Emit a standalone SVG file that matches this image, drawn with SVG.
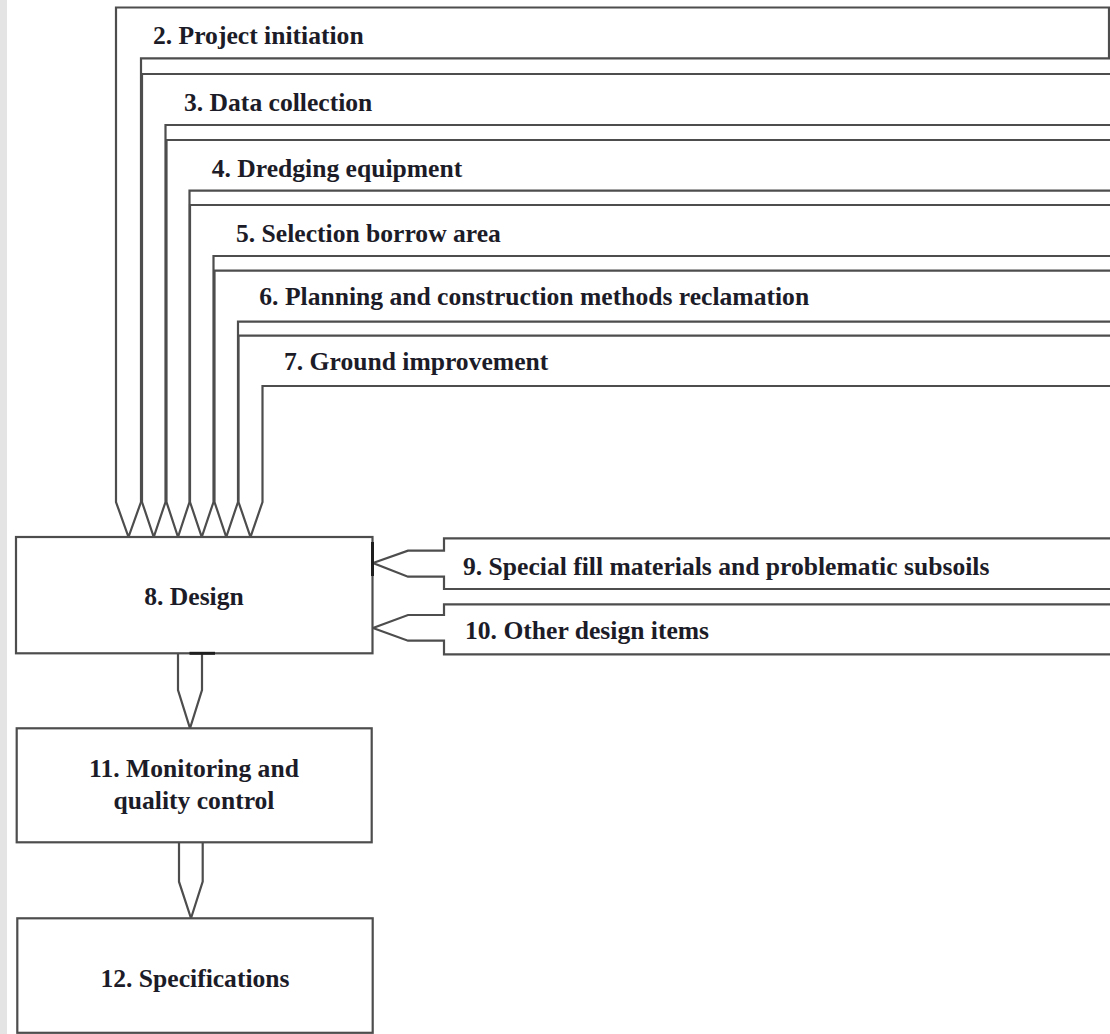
<svg xmlns="http://www.w3.org/2000/svg" width="1110" height="1034" viewBox="0 0 1110 1034">
<style>
.ln{fill:none;stroke:#4d4d4d;stroke-width:2.2;stroke-linejoin:miter}
.bx{fill:#fff;stroke:#4d4d4d;stroke-width:2.2}
.dk{stroke:#1e1e1e;stroke-width:3}
.t{font-family:"Liberation Serif","Times New Roman",serif;font-weight:bold;font-size:25.6px;fill:#1c1c28}
.c{text-anchor:middle}
</style>
<rect x="0" y="0" width="1110" height="1034" fill="#fff"/>
<rect x="0" y="0" width="7" height="1034" fill="#e4e4e4"/>
<g id="connectors">
<path id="band2" class="ln" d="M1109,7.5 L116,7.5 L116,502 L128.5,537 L141,502 L141,58.3 L1109,58.3 Z"/>
<path id="band3" class="ln" d="M1112,74 L142,74 L142,502 L153.75,537 L165.5,502 L165.5,125 L1112,125"/>
<path id="band4" class="ln" d="M1112,140 L166.5,140 L166.5,502 L178,537 L189.5,502 L189.5,190.7 L1112,190.7"/>
<path id="band5" class="ln" d="M1112,205 L190,205 L190,502 L201.75,537 L213.5,502 L213.5,256 L1112,256"/>
<path id="band6" class="ln" d="M1112,270.7 L214.5,270.7 L214.5,502 L226.25,537 L238,502 L238,321.7 L1112,321.7"/>
<path id="band7" class="ln" d="M1112,335.7 L238.5,335.7 L238.5,502 L250.5,537 L262.5,502 L262.5,386 L1112,386"/>
<path id="band9" class="ln" d="M1112,538.3 L444,538.3 L444,550.7 L408,550.7 L373,563 L408,576.7 L444,576.7 L444,589 L1112,589"/>
<path id="band10" class="ln" d="M1112,604.3 L444,604.3 L444,615 L408,615 L373,628 L408,640.7 L444,640.7 L444,654.3 L1112,654.3"/>
<path id="a8to11" class="ln" d="M178,653 L178,690 L190,728.3 L202,690 L202,653"/>
<path id="a11to12" class="ln" d="M179,842 L179,881.7 L191,918.3 L202.7,881.7 L202.7,842"/>
</g>
<g id="labels">
<text class="t" x="153" y="44">2. Project initiation</text>
<text class="t" x="184" y="111">3. Data collection</text>
<text class="t" x="211.7" y="176.5">4. Dredging equipment</text>
<text class="t" x="236" y="241.7">5. Selection borrow area</text>
<text class="t" x="259.3" y="305">6. Planning and construction methods reclamation</text>
<text class="t" x="284" y="370">7. Ground improvement</text>
<text class="t" x="463" y="575">9. Special fill materials and problematic subsoils</text>
<text class="t" x="465" y="639.3">10. Other design items</text>
</g>
<g id="node8">
<rect class="bx" x="16" y="537" width="356.5" height="116.3"/>
<line class="dk" x1="189.5" y1="653.3" x2="215" y2="653.3"/>
<line class="dk" x1="372.5" y1="542" x2="372.5" y2="576"/>
<text class="t c" x="194" y="605">8. Design</text>
</g>
<g id="node11">
<rect class="bx" x="16.7" y="728.3" width="355" height="114"/>
<text class="t c" x="194" y="777">11. Monitoring and</text>
<text class="t c" x="194" y="808.5">quality control</text>
</g>
<g id="node12">
<rect class="bx" x="17.3" y="918.3" width="355.4" height="114.5"/>
<text class="t c" x="195" y="987">12. Specifications</text>
</g>
</svg>
